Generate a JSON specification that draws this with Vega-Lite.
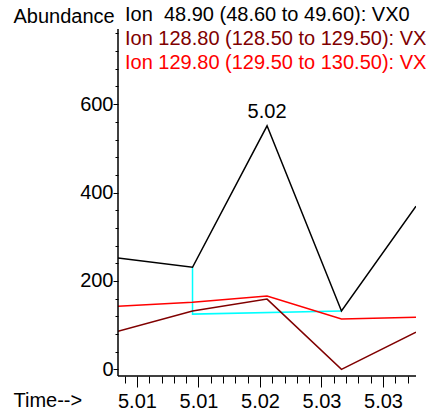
{
  "$schema": "https://vega.github.io/schema/vega-lite/v6.json",
  "width": 298,
  "height": 347,
  "autosize": {"type": "none"},
  "padding": {"left": 118, "top": 29, "right": 10, "bottom": 37},
  "background": "white",
  "config": {
    "view": {"stroke": null},
    "font": "Liberation Sans",
    "axis": {
      "grid": false,
      "domain": false,
      "tickColor": "black",
      "labelColor": "black",
      "titleColor": "black",
      "labelFont": "Liberation Sans",
      "titleFont": "Liberation Sans",
      "labelFontSize": 20,
      "titleFontSize": 20,
      "titleFontWeight": "normal"
    }
  },
  "datasets": {
    "traces": [
      {"t": 5.00615, "abundance": 252, "ion": "Ion\u00a0 48.90 (48.60 to 49.60): VX0"},
      {"t": 5.01342, "abundance": 231, "ion": "Ion\u00a0 48.90 (48.60 to 49.60): VX0"},
      {"t": 5.02069, "abundance": 551, "ion": "Ion\u00a0 48.90 (48.60 to 49.60): VX0"},
      {"t": 5.02795, "abundance": 132, "ion": "Ion\u00a0 48.90 (48.60 to 49.60): VX0"},
      {"t": 5.03522, "abundance": 369, "ion": "Ion\u00a0 48.90 (48.60 to 49.60): VX0"},
      {"t": 5.00615, "abundance": 86, "ion": "Ion 128.80 (128.50 to 129.50): VX0"},
      {"t": 5.01342, "abundance": 132, "ion": "Ion 128.80 (128.50 to 129.50): VX0"},
      {"t": 5.02069, "abundance": 159, "ion": "Ion 128.80 (128.50 to 129.50): VX0"},
      {"t": 5.02795, "abundance": 0, "ion": "Ion 128.80 (128.50 to 129.50): VX0"},
      {"t": 5.03522, "abundance": 84, "ion": "Ion 128.80 (128.50 to 129.50): VX0"},
      {"t": 5.00615, "abundance": 143, "ion": "Ion 129.80 (129.50 to 130.50): VX0"},
      {"t": 5.01342, "abundance": 152, "ion": "Ion 129.80 (129.50 to 130.50): VX0"},
      {"t": 5.02069, "abundance": 166, "ion": "Ion 129.80 (129.50 to 130.50): VX0"},
      {"t": 5.02795, "abundance": 114, "ion": "Ion 129.80 (129.50 to 130.50): VX0"},
      {"t": 5.03522, "abundance": 118, "ion": "Ion 129.80 (129.50 to 130.50): VX0"}
    ],
    "baseline": [
      {"t": 5.01342, "abundance": 231, "o": 1},
      {"t": 5.01342, "abundance": 125, "o": 2},
      {"t": 5.02795, "abundance": 132, "o": 3}
    ],
    "peaks": [
      {"t": 5.02069, "abundance": 551, "label": "5.02"}
    ],
    "axislines": [
      {"t": 5.00615, "abundance": -15}
    ]
  },
  "layer": [
    {
      "data": {"name": "baseline"},
      "mark": {"type": "line", "color": "#00ffff", "strokeWidth": 1.5, "clip": true},
      "encoding": {
        "x": {
          "field": "t", "type": "quantitative",
          "scale": {"domain": [5.00615, 5.03522], "nice": false, "zero": false},
          "axis": {
            "orient": "bottom",
            "values": [5.0068, 5.0092, 5.0104, 5.0116, 5.0128, 5.0152, 5.0164, 5.0176, 5.0188, 5.0212, 5.0224, 5.0236, 5.0248, 5.0272, 5.0284, 5.0296, 5.0308, 5.0332, 5.0344],
            "tickSize": 7,
            "labels": false,
            "title": null
          }
        },
        "y": {
          "field": "abundance", "type": "quantitative",
          "scale": {"domain": [-15, 770], "nice": false, "zero": false},
          "axis": {
            "orient": "left",
            "values": [40, 80, 120, 160, 240, 280, 320, 360, 440, 480, 520, 560, 640, 680, 720, 760],
            "tickSize": 3,
            "labels": false,
            "title": null
          }
        },
        "order": {"field": "o", "type": "quantitative"}
      }
    },
    {
      "data": {"name": "traces"},
      "mark": {"type": "line", "strokeWidth": 1.5, "clip": true},
      "encoding": {
        "x": {
          "field": "t", "type": "quantitative",
          "axis": {
            "orient": "bottom",
            "values": [5.008, 5.014, 5.02, 5.026, 5.032],
            "format": ".2f",
            "tickSize": 11,
            "labelPadding": 4,
            "labelFlush": false,
            "labelOverlap": false,
            "title": "Time-->",
            "titleX": -105,
            "titleY": 30,
            "titleAlign": "left",
            "titleBaseline": "alphabetic"
          }
        },
        "y": {
          "field": "abundance", "type": "quantitative",
          "axis": {
            "orient": "left",
            "values": [0, 200, 400, 600],
            "tickSize": 5,
            "labelPadding": 0,
            "title": "Abundance",
            "titleAngle": 0,
            "titleX": -105,
            "titleY": -7,
            "titleAlign": "left",
            "titleBaseline": "alphabetic"
          }
        },
        "color": {
          "field": "ion", "type": "nominal",
          "scale": {
            "domain": ["Ion\u00a0 48.90 (48.60 to 49.60): VX0", "Ion 128.80 (128.50 to 129.50): VX0", "Ion 129.80 (129.50 to 130.50): VX0"],
            "range": ["#000000", "#800000", "#ff0000"]
          },
          "legend": {
            "orient": "none",
            "legendX": -13,
            "legendY": -24,
            "title": null,
            "padding": 0,
            "symbolSize": 0,
            "symbolStrokeWidth": 0,
            "symbolOpacity": 0,
            "labelOffset": 0,
            "labelFont": "Liberation Sans",
            "labelFontSize": 20,
            "labelLimit": 1000,
            "rowPadding": 4,
            "encode": {"labels": {"update": {"fill": {"scale": "color", "field": "value"}}}}
          }
        }
      }
    },
    {
      "data": {"name": "axislines"},
      "mark": {"type": "rule", "color": "black", "strokeWidth": 1.5, "clip": false},
      "encoding": {
        "x": {"field": "t", "type": "quantitative", "axis": null}
      }
    },
    {
      "data": {"name": "axislines"},
      "mark": {"type": "rule", "color": "black", "strokeWidth": 1.5, "clip": false},
      "encoding": {
        "y": {"field": "abundance", "type": "quantitative", "axis": null}
      }
    },
    {
      "data": {"name": "peaks"},
      "mark": {"type": "text", "fontSize": 20, "font": "Liberation Sans", "baseline": "alphabetic", "dy": -8, "color": "black"},
      "encoding": {
        "x": {"field": "t", "type": "quantitative", "axis": null},
        "y": {"field": "abundance", "type": "quantitative", "axis": null},
        "text": {"field": "label"}
      }
    }
  ],
  "resolve": {"axis": {"x": "independent", "y": "independent"}}
}
